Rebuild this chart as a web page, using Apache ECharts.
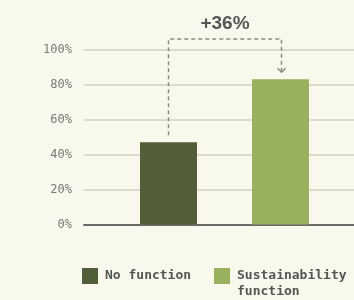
<!DOCTYPE html>
<html><head><meta charset="utf-8">
<script src="https://cdn.jsdelivr.net/npm/echarts@6/dist/echarts.min.js"></script>
<style>html,body{margin:0;padding:0;background:#f8f9ec;}#c{width:354px;height:300px;}</style>
</head><body><div id="c"></div>
<script>
const categories = ['No function', 'Sustainability function'];
const seriesNames = ['No function', 'Sustainability function'];
const noFunction = [47, '-'];
const sustainability = ['-', 83];
const yTicks = [0, 20, 40, 60, 80, 100];
const bracketLevel = 106;

const mono = '"DejaVu Sans Mono", monospace';
const chart = echarts.init(document.getElementById('c'), null, {renderer: 'canvas'});
const gridTop = 49.5, gridBottom = 75.5;
chart.setOption({
  backgroundColor: '#f8f9ec',
  animation: false,
  grid: [
    {left: 84, right: 0, top: gridTop, bottom: gridBottom},
    {left: 112.5, right: 17.5, top: gridTop, bottom: gridBottom}
  ],
  xAxis: [
    {gridIndex: 0, type: 'value', min: 0, max: 1, axisLine: {show: true, onZero: false, lineStyle: {color: '#6a6a66', width: 2}}, axisTick: {show: false}, axisLabel: {show: false}, splitLine: {show: false}},
    {gridIndex: 1, type: 'category', data: categories, show: false}
  ],
  yAxis: [
    {gridIndex: 0, type: 'value', min: yTicks[0], max: yTicks[yTicks.length - 1], interval: 20,
      axisLine: {show: false}, axisTick: {show: false},
      axisLabel: {formatter: '{value}%', fontFamily: mono, fontSize: 12, color: '#7a7a74', margin: 12},
      splitLine: {lineStyle: {color: '#d0d1c0', width: 1.5}}},
    {gridIndex: 1, type: 'value', min: yTicks[0], max: yTicks[yTicks.length - 1], show: false, splitLine: {show: false}}
  ],
  legend: [
    {data: [seriesNames[0]], left: 82, top: 268, padding: 0, itemWidth: 16, itemHeight: 16, itemGap: 0, icon: 'rect',
      textStyle: {fontFamily: mono, fontWeight: 'bold', fontSize: 13, color: '#555', padding: [0, 0, 0, 2]}},
    {data: [seriesNames[1]], left: 214, top: 252, padding: 0, itemWidth: 16, itemHeight: 16, icon: 'rect',
      formatter: function () { return ' \nSustainability\nfunction'; },
      textStyle: {fontFamily: mono, fontWeight: 'bold', fontSize: 13, color: '#555', lineHeight: 16, padding: [0, 0, 0, 2]}}
  ],
  series: [
    {name: seriesNames[0], type: 'bar', xAxisIndex: 1, yAxisIndex: 1, stack: 's', data: noFunction, barWidth: 57, itemStyle: {color: '#525e38'}},
    {name: seriesNames[1], type: 'bar', xAxisIndex: 1, yAxisIndex: 1, stack: 's', data: sustainability, barWidth: 57, itemStyle: {color: '#98b15d'}}
  ]
});

const p1 = chart.convertToPixel({xAxisIndex: 1, yAxisIndex: 1}, [categories[0], noFunction[0]]);
const p2 = chart.convertToPixel({xAxisIndex: 1, yAxisIndex: 1}, [categories[1], sustainability[1]]);
const yb = chart.convertToPixel({yAxisIndex: 1}, bracketLevel);
const x1 = Math.round(p1[0]) - 0.5, x2 = Math.round(p2[0]) + 0.5;
const ls = {stroke: '#8c8c82', lineWidth: 1.5, lineDash: [4, 3], fill: null};
const arrowTip = p2[1] - 7;
chart.setOption({
  graphic: [
    {type: 'polyline', shape: {points: [[x1, p1[1] - 7], [x1, yb], [x2, yb], [x2, arrowTip]]}, style: ls, silent: true},
    {type: 'polyline', shape: {points: [[x2 - 4, arrowTip - 4], [x2, arrowTip], [x2 + 4, arrowTip - 4]]}, style: {stroke: '#8c8c82', lineWidth: 1.5, fill: null}, silent: true},
    {type: 'text', x: (x1 + x2) / 2, y: yb - 15, style: {text: '+' + (sustainability[1] - noFunction[0]) + '%', fontFamily: '"Liberation Sans", Arial, sans-serif', fontWeight: 'bold', fontSize: 19, fill: '#555', align: 'center', verticalAlign: 'middle'}, silent: true}
  ]
});
</script></body></html>
